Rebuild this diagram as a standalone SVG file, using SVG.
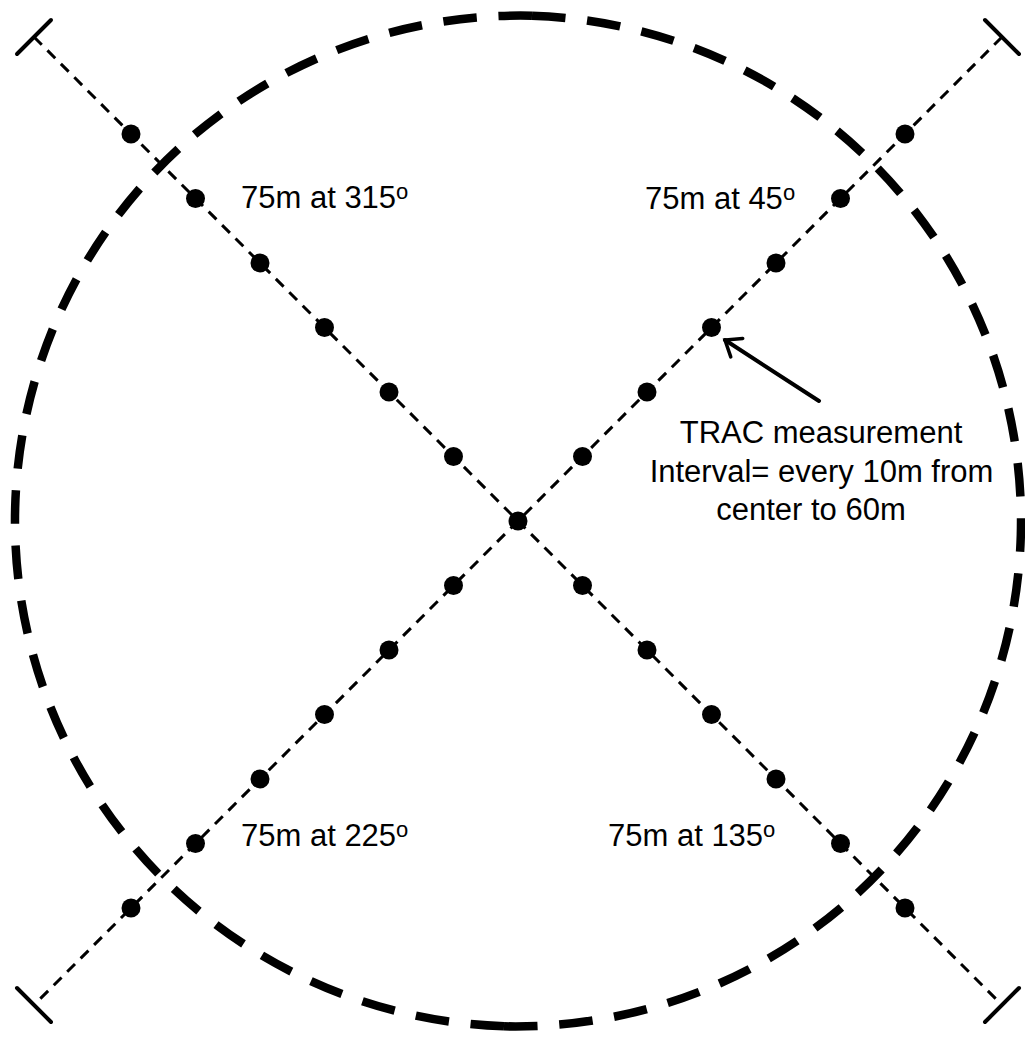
<svg xmlns="http://www.w3.org/2000/svg" width="1025" height="1037" viewBox="0 0 1025 1037">
  <defs>
    <style>
      .txt { font-family: "Liberation Sans", Arial, sans-serif; font-size: 31px; fill: #000; }
      .sup { font-size: 22px; }
      .transect { stroke: #000; stroke-width: 3; stroke-dasharray: 11 8; fill: none; }
      .cap { stroke: #000; stroke-width: 4; stroke-linecap: round; fill: none; }
      .pt { fill: #000; }
      .plot { stroke: #000; stroke-width: 8.5; fill: none; stroke-dasharray: 34 22; }
    </style>
    <marker id="openArrow" markerUnits="userSpaceOnUse" markerWidth="30" markerHeight="30" viewBox="-20 -15 30 30" refX="0" refY="0" orient="auto">
      <path d="M-14,-11 L0,0 L-14,11" fill="none" stroke="#000" stroke-width="3.5" stroke-linecap="round" stroke-linejoin="miter"/>
    </marker>
  </defs>
  <rect width="1025" height="1037" fill="#fff"/>

  <g id="plot-circle">
    <path class="plot" pathLength="1602" d="M532,15.7 A505.5,505.5 0 0 1 504,1026.3"/>
    <path class="plot" pathLength="1602" d="M504,1026.3 A505.5,505.5 0 0 1 532,15.7"/>
  </g>

  <g id="connectors">
    <line id="transect-nw-se" class="transect" x1="34" y1="37" x2="1002" y2="1005"/>
    <line id="transect-ne-sw" class="transect" x1="1002" y1="37" x2="34" y2="1005"/>
    <line class="cap" x1="17" y1="54" x2="51" y2="20"/>
    <line class="cap" x1="985" y1="20" x2="1019" y2="54"/>
    <line class="cap" x1="17" y1="988" x2="51" y2="1022"/>
    <line class="cap" x1="985" y1="1022" x2="1019" y2="988"/>
    <line id="callout-arrow" x1="819" y1="401" x2="725" y2="340" stroke="#000" stroke-width="4" stroke-linecap="round" marker-end="url(#openArrow)"/>
  </g>

  <g id="measurement-points">
    <circle class="pt" cx="518" cy="521" r="9.5"/>
    <circle class="pt" cx="453.5" cy="456.5" r="9.5"/>
    <circle class="pt" cx="389" cy="392" r="9.5"/>
    <circle class="pt" cx="324.5" cy="327.5" r="9.5"/>
    <circle class="pt" cx="260" cy="263" r="9.5"/>
    <circle class="pt" cx="195.5" cy="198.5" r="9.5"/>
    <circle class="pt" cx="131" cy="134" r="9.5"/>
    <circle class="pt" cx="582.5" cy="585.5" r="9.5"/>
    <circle class="pt" cx="647" cy="650" r="9.5"/>
    <circle class="pt" cx="711.5" cy="714.5" r="9.5"/>
    <circle class="pt" cx="776" cy="779" r="9.5"/>
    <circle class="pt" cx="840.5" cy="843.5" r="9.5"/>
    <circle class="pt" cx="905" cy="908" r="9.5"/>
    <circle class="pt" cx="582.5" cy="456.5" r="9.5"/>
    <circle class="pt" cx="647" cy="392" r="9.5"/>
    <circle class="pt" cx="711.5" cy="327.5" r="9.5"/>
    <circle class="pt" cx="776" cy="263" r="9.5"/>
    <circle class="pt" cx="840.5" cy="198.5" r="9.5"/>
    <circle class="pt" cx="905" cy="134" r="9.5"/>
    <circle class="pt" cx="453.5" cy="585.5" r="9.5"/>
    <circle class="pt" cx="389" cy="650" r="9.5"/>
    <circle class="pt" cx="324.5" cy="714.5" r="9.5"/>
    <circle class="pt" cx="260" cy="779" r="9.5"/>
    <circle class="pt" cx="195.5" cy="843.5" r="9.5"/>
    <circle class="pt" cx="131" cy="908" r="9.5"/>
  </g>

  <g id="label-315">
    <text class="txt" x="241" y="208">75m at 315<tspan class="sup" dy="-9">o</tspan></text>
  </g>
  <g id="label-45">
    <text class="txt" x="645" y="209">75m at 45<tspan class="sup" dy="-9">o</tspan></text>
  </g>
  <g id="label-225">
    <text class="txt" x="241" y="846">75m at 225<tspan class="sup" dy="-9">o</tspan></text>
  </g>
  <g id="label-135">
    <text class="txt" x="608" y="846">75m at 135<tspan class="sup" dy="-9">o</tspan></text>
  </g>
  <g id="callout">
    <text class="txt" text-anchor="middle" x="821" y="443">TRAC measurement</text>
    <text class="txt" text-anchor="middle" x="821.5" y="482">Interval= every 10m from</text>
    <text class="txt" text-anchor="middle" x="811" y="520">center to 60m</text>
  </g>
</svg>
